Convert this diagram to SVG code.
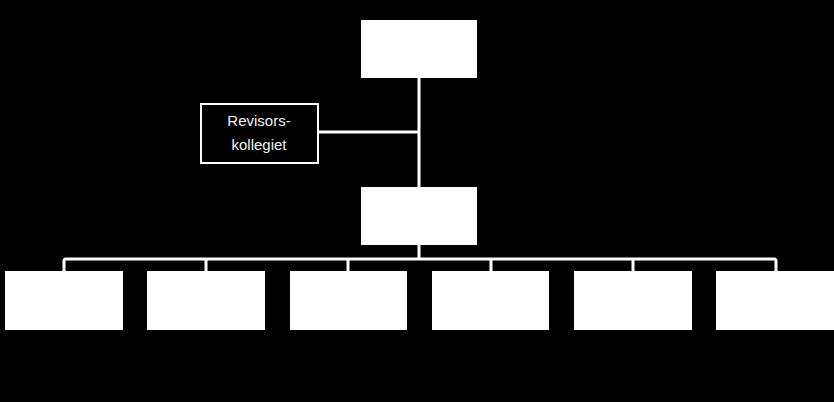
<svg xmlns="http://www.w3.org/2000/svg" width="834" height="402" viewBox="0 0 834 402">
<style>
.box{fill:#ffffff;}
.obox{fill:#000000;stroke:#ffffff;stroke-width:2;}
.conn{fill:none;stroke:#ffffff;stroke-width:3;stroke-linejoin:round;}
.lbl{font-family:"Liberation Sans",Arial,sans-serif;font-size:15px;fill:#f2f2f2;text-anchor:middle;}
</style>
<rect x="0" y="0" width="834" height="402" fill="#000000"/>
<g id="connectors">
<path class="conn" d="M419,78 V187"/>
<path class="conn" d="M318,132 H419"/>
<path class="conn" d="M419,245 V259"/>
<path class="conn" d="M64,271 V261 Q64,259 66,259 H774 Q776,259 776,261 V271"/>
<path class="conn" d="M206,259 V271 M348,259 V271 M491,259 V271 M633,259 V271"/>
</g>
<g id="top"><rect class="box" x="361" y="20" width="116" height="58"/></g>
<g id="revisors"><rect class="obox" x="201" y="104" width="117" height="59"/>
<text class="lbl" x="259" y="126">Revisors-</text>
<text class="lbl" x="259" y="150">kollegiet</text></g>
<g id="middle"><rect class="box" x="361" y="187" width="116" height="58"/></g>
<g id="b1"><rect class="box" x="5" y="271" width="118" height="59"/></g>
<g id="b2"><rect class="box" x="147" y="271" width="118" height="59"/></g>
<g id="b3"><rect class="box" x="290" y="271" width="117" height="59"/></g>
<g id="b4"><rect class="box" x="432" y="271" width="117" height="59"/></g>
<g id="b5"><rect class="box" x="574" y="271" width="118" height="59"/></g>
<g id="b6"><rect class="box" x="716" y="271" width="118" height="59"/></g>
</svg>
